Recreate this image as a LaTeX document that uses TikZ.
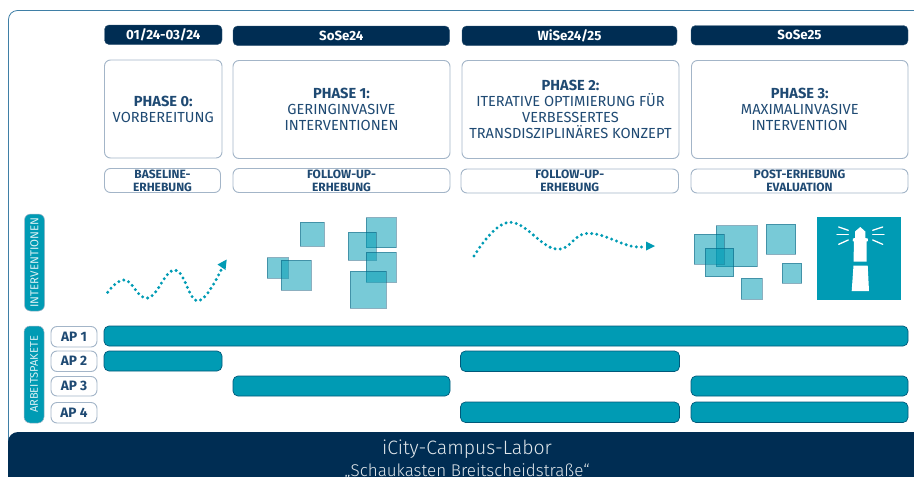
\documentclass[tikz,border=0pt]{standalone}
\usepackage{fontspec}
\setmainfont{Fira Sans}
\newfontfamily\lightf{Fira Sans Light}
\usetikzlibrary{arrows.meta}
\definecolor{navy}{HTML}{002D53}
\definecolor{teal}{HTML}{009BB4}
\definecolor{inktxt}{HTML}{1F4A73}
\definecolor{edgeb}{HTML}{A3B5C8}
\definecolor{framec}{HTML}{3F7FA6}
\tikzset{
  datepill/.style={fill=navy,draw=navy!80,line width=.4pt,rounded corners=4.5pt,text=white,font=\fontsize{13.3}{15}\selectfont\bfseries},
  phasebox/.style={draw=edgeb,line width=.9pt,fill=white,rounded corners=6pt,text=inktxt,align=center,font=\fontsize{14.6}{16}\selectfont},
  subbox/.style={draw=edgeb,line width=.9pt,fill=white,rounded corners=6pt},
  subtext/.style={text=inktxt,align=center,font=\fontsize{12}{13}\selectfont\bfseries,inner sep=0pt},
  sidepill/.style={fill=teal,draw=edgeb,line width=.5pt,rounded corners=6pt},
  sidetext/.style={rotate=90,text=white!85!teal,inner sep=0pt},
  aplabel/.style={draw=edgeb,line width=.9pt,fill=white,rounded corners=6pt,text=inktxt,font=\fontsize{13.6}{15}\selectfont\bfseries},
  barbox/.style={fill=teal,draw=navy!60!teal,line width=.7pt,rounded corners=5pt},
  sq/.style={draw=navy!70!teal,draw opacity=.45,fill=teal,fill opacity=.53,line width=.9pt},
  dotline/.style={teal,line width=3.3pt,line cap=round,dash pattern=on 0pt off 5.2pt},
  ray/.style={white,line width=1.3pt,line cap=round},
}
\newcommand{\boxnode}[7]{%
  \pgfmathsetmacro{\bxc}{(#3+#5)/2}\pgfmathsetmacro{\byc}{(#4+#6)/2}%
  \pgfmathsetmacro{\bxw}{#5-#3}\pgfmathsetmacro{\byh}{#6-#4}%
  \node[#1,inner sep=0pt,outer sep=0pt,minimum width=\bxw pt,minimum height=\byh pt] (#2) at (\bxc,\byc) {#7};}
\newcommand{\sqr}[5]{\fill[sq,draw] (#2,#3) rectangle (#4,#5) coordinate (#1);}
\begin{document}
\begin{tikzpicture}[x=1pt,y=-1pt]
\useasboundingbox (0,0) rectangle (914,477);
\clip (0,0) rectangle (914,477);
\draw[framec,line width=.8pt,rounded corners=9pt] (930,10.5) -- (8.5,10.5) -- (8.5,490);
% date pills
\boxnode{datepill}{d0}{104.5}{25}{222}{44.5}{01/24-03/24}
\boxnode{datepill}{d1}{233}{26}{449.5}{45.5}{SoSe24}
\boxnode{datepill}{d2}{462}{26}{677}{45.5}{WiSe24/25}
\boxnode{datepill}{d3}{691}{25.5}{908}{45}{SoSe25}
% phases
\boxnode{phasebox}{p0}{104.5}{60}{222}{158}{\textbf{PHASE 0:}\\VORBEREITUNG}
\boxnode{phasebox}{p1}{233}{60.5}{450}{158.5}{\textbf{PHASE 1:}\\GERINGINVASIVE\\INTERVENTIONEN}
\boxnode{phasebox}{p2}{462}{60.5}{679}{158.5}{\textbf{PHASE 2:}\\ITERATIVE OPTIMIERUNG FÜR\\VERBESSERTES\\TRANSDISZIPLINÄRES KONZEPT}
\boxnode{phasebox}{p3}{691.5}{60.5}{908}{158.5}{\textbf{PHASE 3:}\\MAXIMALINVASIVE\\INTERVENTION}
% sub boxes
\boxnode{subbox}{s0}{104.5}{168.5}{220.5}{192.5}{}
\boxnode{subbox}{s1}{233}{168.5}{450}{192.5}{}
\boxnode{subbox}{s2}{461}{169}{678.5}{193}{}
\boxnode{subbox}{s3}{691}{169}{908}{193}{}
\node[subtext] (st0) at (s0) {BASELINE-\\ERHEBUNG};
\node[subtext] (st1) at (s1) {FOLLOW-UP-\\ERHEBUNG};
\node[subtext] (st2) at (s2) {FOLLOW-UP-\\ERHEBUNG};
\node[subtext] (st3) at (s3) {POST-ERHEBUNG\\EVALUATION};
% side pills
\boxnode{sidepill}{iv}{24.5}{214}{44.5}{311}{}
\boxnode{sidepill}{ar}{24}{326}{44}{423}{}
\node[sidetext,font=\fontsize{11.5}{12}\selectfont] (ivt) at (iv) {INTERVENTIONEN};
\node[sidetext,font=\fontsize{11.1}{12}\selectfont] (art) at (ar) {ARBEITSPAKETE};
% AP labels
\boxnode{aplabel}{a1}{51}{326.5}{97}{347}{AP 1}
\boxnode{aplabel}{a2}{51}{351}{97}{371.5}{AP 2}
\boxnode{aplabel}{a3}{51}{376.5}{97}{396}{AP 3}
\boxnode{aplabel}{a4}{51}{402.5}{97}{423}{AP 4}
% bars
\boxnode{barbox}{b1}{104}{326}{908}{346}{}
\boxnode{barbox}{b2}{104}{351}{222}{371}{}
\boxnode{barbox}{b3}{460.5}{351}{679.5}{371.5}{}
\boxnode{barbox}{b4}{233}{376}{450}{396}{}
\boxnode{barbox}{b5}{691}{376}{908}{396}{}
\boxnode{barbox}{b6}{460.5}{402}{679.5}{422.5}{}
\boxnode{barbox}{b7}{691}{402}{908}{422.5}{}
% squares
\sqr{q1}{300}{222}{324}{246}
\sqr{q2}{267}{257.7}{288}{278}
\sqr{q3}{281}{260}{311}{290}
\sqr{q4}{366}{217.7}{396}{247.7}
\sqr{q5}{348}{232}{376}{260}
\sqr{q6}{366}{252}{396}{282}
\sqr{q7}{350}{271}{386}{308}
\sqr{q8}{716}{225.7}{757}{266.7}
\sqr{q9}{694.3}{234}{724}{264}
\sqr{q10}{705}{248.3}{733.7}{276.7}
\sqr{q11}{766}{224.3}{795.7}{254.3}
\sqr{q12}{782.3}{263.3}{801.7}{283}
\sqr{q13}{741.3}{278}{762.3}{299}
% dotted arrows
\draw[dotline] plot[smooth,tension=.7] coordinates {(107.7,292.3) (125,280) (148,298) (175,270) (198,301) (222,268)};
\fill[teal] (226.7,259.5) -- (217.5,264.5) -- (225.5,270) -- cycle;
\draw[dotline] plot[smooth,tension=.7] coordinates {(474,256) (509,222.3) (555.7,249) (587.3,233.3) (630.7,246) (646,246)};
\fill[teal] (655,246) -- (646,241.5) -- (646,250.5) -- cycle;
% lighthouse
\fill[teal] (816.7,216.7) rectangle (901.3,299.7);
\fill[white] (860.3,227) -- (855,231.5) -- (855,238) -- (853,238.5) -- (852.7,241) -- (854,241.5) -- (853.5,261.7) -- (866.7,261.7) -- (866.5,241.5) -- (868,241) -- (867.7,238.5) -- (865.3,238) -- (865.3,231.5) -- cycle;
\fill[white] (853.5,265.5) -- (867.7,265.5) -- (869,291) -- (851.7,291) -- cycle;
\draw[ray] (838.7,227) -- (848.3,230.3);
\draw[ray] (837,234.7) -- (848.3,234.7);
\draw[ray] (838.7,244.3) -- (848.3,240);
\draw[ray] (882.7,227) -- (872.7,230.3);
\draw[ray] (884,234.7) -- (872.7,234.7);
\draw[ray] (882.7,244.3) -- (872.7,240);
% banner
\fill[navy,rounded corners=10pt] (8,490) -- (8,432) -- (930,432) -- (930,490) -- cycle;
\node[text=white!88!navy,font=\lightf\fontsize{19.4}{21}\selectfont,inner sep=0pt] (t1) at (467,449) {iCity-Campus-Labor};
\node[text=white!88!navy,font=\lightf\fontsize{17}{19}\selectfont,inner sep=0pt] (t2) at (467,471) {„Schaukasten Breitscheidstraße“};
\end{tikzpicture}
\end{document}
